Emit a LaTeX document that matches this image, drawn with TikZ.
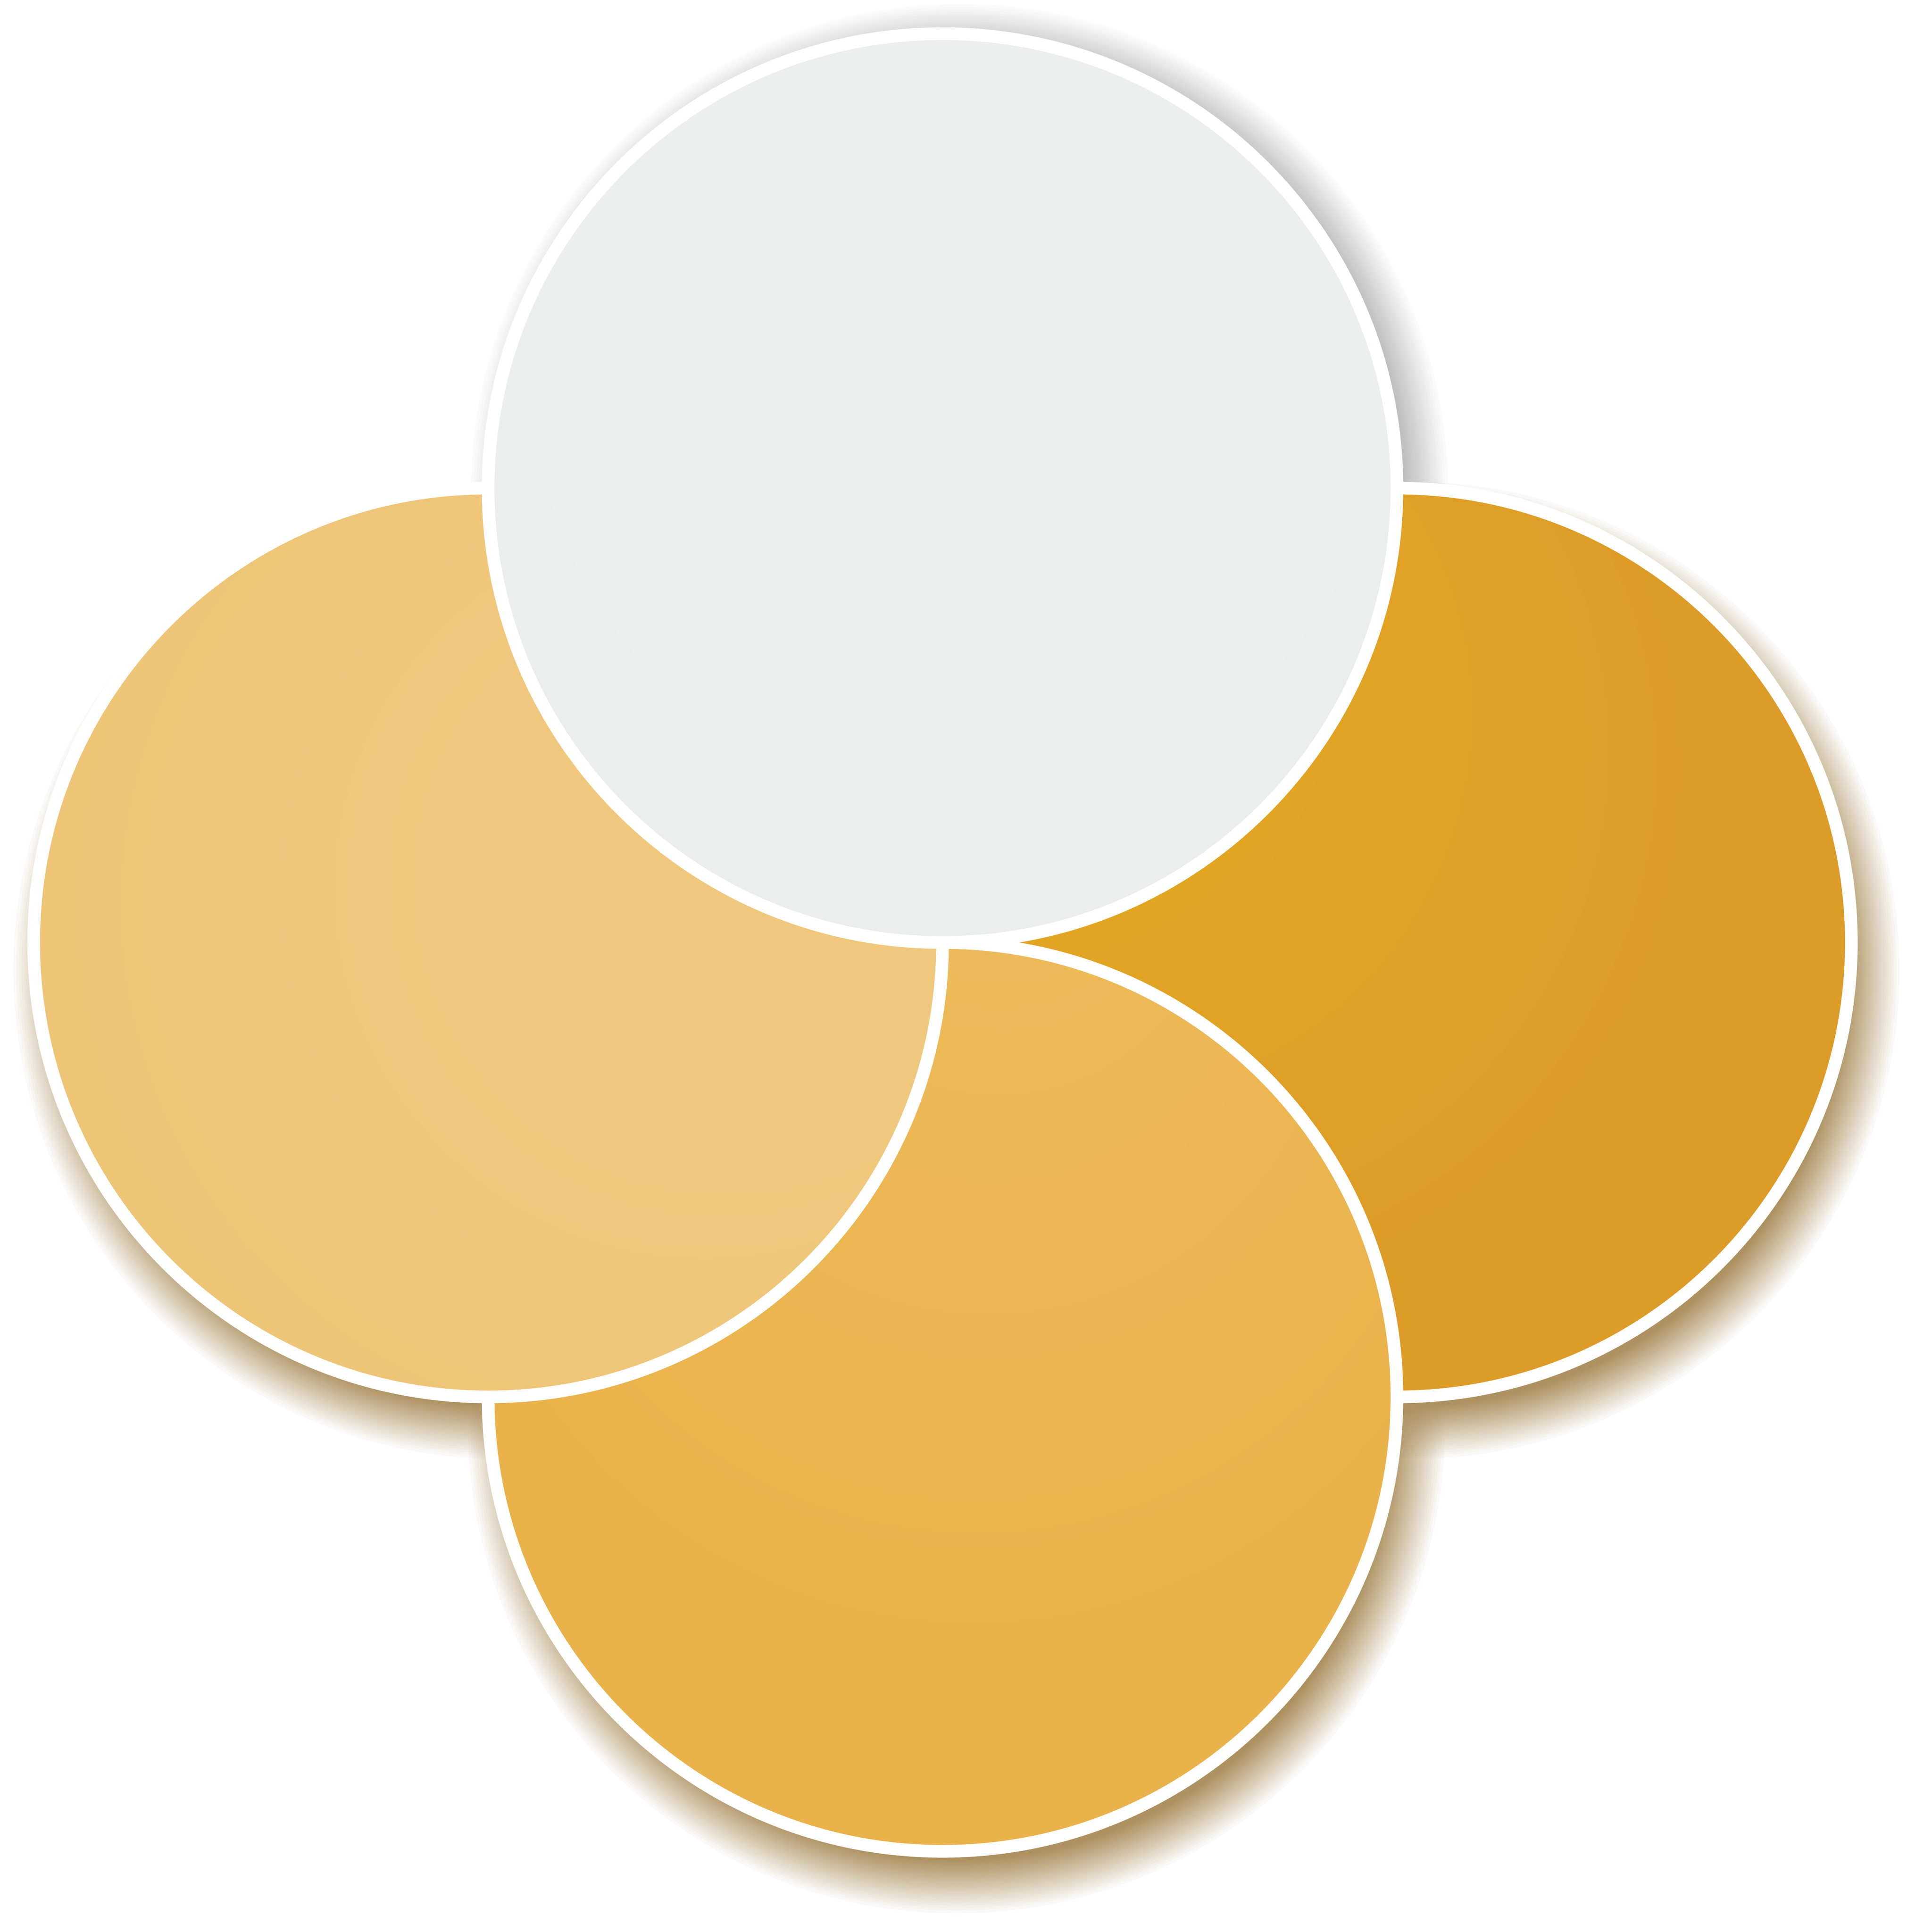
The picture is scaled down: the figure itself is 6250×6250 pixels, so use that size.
\documentclass[tikz,border=0pt]{standalone}
\definecolor{topA}{HTML}{EBEFEE}
\definecolor{topB}{HTML}{E7ECEB}
\definecolor{leftA}{HTML}{F0C87D}
\definecolor{leftB}{HTML}{ECC070}
\definecolor{rightA}{HTML}{E4A921}
\definecolor{rightB}{HTML}{DD9B28}
\definecolor{botA}{HTML}{EDBA59}
\definecolor{botB}{HTML}{EAB24A}
\definecolor{shbrown}{HTML}{AA8D5A}
\definecolor{shgray}{HTML}{ADADAD}
\pgfdeclareradialshading{topsh}{\pgfpoint{2bp}{12bp}}{color(0bp)=(topA); color(20bp)=(topA); color(50bp)=(topB)}
\pgfdeclareradialshading{leftsh}{\pgfpoint{20bp}{5bp}}{color(0bp)=(leftA); color(16bp)=(leftA); color(50bp)=(leftB)}
\pgfdeclareradialshading{rightsh}{\pgfpoint{-30bp}{22bp}}{color(0bp)=(rightA); color(8bp)=(rightA); color(30bp)=(rightB); color(50bp)=(rightB)}
\pgfdeclareradialshading{botsh}{\pgfpoint{4bp}{38bp}}{color(0bp)=(botA); color(8bp)=(botA); color(30bp)=(botB); color(50bp)=(botB)}
% soft shadow: stacked translucent discs, opacity falling linearly from r=1400 to r=1590
\newcommand\dropshade[3]{%
  \foreach \k in {1,...,60}{%
    \pgfmathsetmacro\rr{1590-(1-0.95^\k)*190}%
    \fill[#2, fill opacity=0.05] ([shift={#3}]#1) circle[radius=\rr];
  }}
\begin{document}
\begin{tikzpicture}[x=0.1mm,y=0.1mm,
  disc/.style={circle, inner sep=0pt, outer sep=0pt, minimum size=294mm, draw=white, line width=4.1mm, shade}]
\useasboundingbox (0,0) rectangle (6250,6250);
\coordinate (cT) at (3049,4671);
\coordinate (cL) at (1579,3201);
\coordinate (cR) at (4519,3201);
\coordinate (cB) at (3049,1731);
% soft drop shadows (behind everything)
\dropshade{cR}{shbrown}{(45,-90)}
\dropshade{cB}{shbrown}{(45,-90)}
\dropshade{cL}{shbrown}{(45,-90)}
\dropshade{cT}{shgray}{(55,-15)}
% circles
\node[disc, shading=rightsh] (right) at (cR) {};
\node[disc, shading=botsh] (bottom) at (cB) {};
\node[disc, shading=leftsh] (left) at (cL) {};
\node[disc, shading=topsh] (top) at (cT) {};
\end{tikzpicture}
\end{document}
